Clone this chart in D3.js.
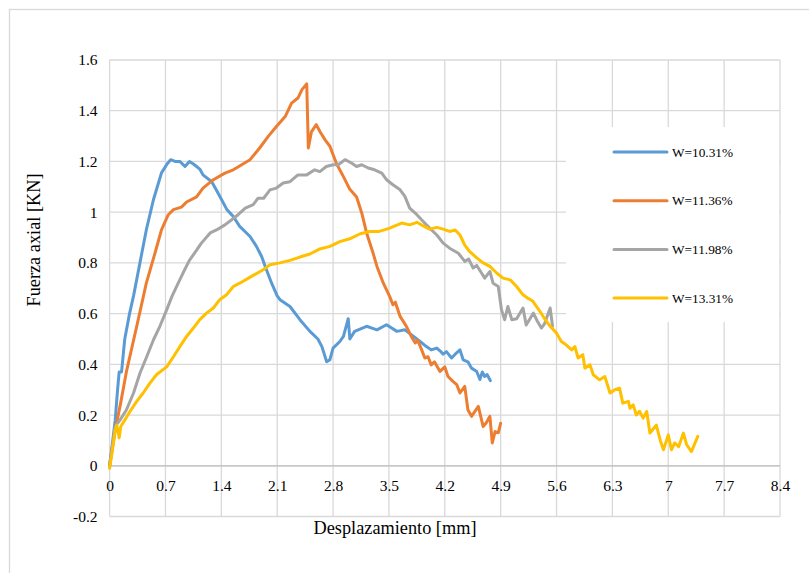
<!DOCTYPE html>
<html>
<head>
<meta charset="utf-8">
<script src="https://cdn.jsdelivr.net/npm/d3@7"></script>
<style>
  html, body { margin: 0; padding: 0; background: #fff; }
  svg { display: block; font-family: "Liberation Serif", "Times New Roman", serif; }
</style>
</head>
<body>
<svg id="chart" width="809" height="573"></svg>
<script>
// Displacement (mm) and axial force (kN) for each moisture content
const seriesNames = ["W=10.31%", "W=11.36%", "W=11.98%", "W=13.31%"];
const seriesColors = ["#5B9BD5", "#ED7D31", "#A5A5A5", "#FFC000"];

const xW1031 = [0, 0.04, 0.07, 0.10, 0.12, 0.15, 0.19, 0.25, 0.30, 0.38, 0.46, 0.55, 0.65, 0.72, 0.765, 0.82, 0.88, 0.945, 1.0, 1.05, 1.09, 1.13, 1.17, 1.28, 1.36, 1.47, 1.55, 1.63, 1.76, 1.84, 1.905, 1.95, 2.03, 2.10, 2.135, 2.26, 2.385, 2.51, 2.61, 2.66, 2.72, 2.76, 2.80, 2.885, 2.93, 2.99, 3.01, 3.07, 3.22, 3.35, 3.47, 3.60, 3.70, 3.78, 3.89, 3.97, 4.03, 4.10, 4.15, 4.18, 4.22, 4.285, 4.33, 4.39, 4.43, 4.49, 4.535, 4.60, 4.64, 4.67, 4.70, 4.73, 4.77];
const yW1031 = [0, 0.10, 0.18, 0.30, 0.37, 0.37, 0.50, 0.60, 0.67, 0.80, 0.93, 1.05, 1.155, 1.19, 1.207, 1.20, 1.20, 1.18, 1.20, 1.19, 1.18, 1.17, 1.147, 1.12, 1.075, 1.01, 0.983, 0.944, 0.904, 0.865, 0.825, 0.786, 0.72, 0.67, 0.655, 0.628, 0.576, 0.53, 0.50, 0.47, 0.41, 0.418, 0.464, 0.49, 0.51, 0.58, 0.50, 0.53, 0.55, 0.536, 0.556, 0.53, 0.536, 0.517, 0.49, 0.47, 0.457, 0.464, 0.45, 0.44, 0.45, 0.425, 0.44, 0.457, 0.418, 0.41, 0.385, 0.372, 0.34, 0.37, 0.352, 0.36, 0.336];

const xW1136 = [0, 0.07, 0.14, 0.21, 0.34, 0.46, 0.57, 0.65, 0.735, 0.80, 0.90, 0.965, 1.09, 1.17, 1.30, 1.445, 1.55, 1.655, 1.76, 1.88, 1.99, 2.09, 2.20, 2.28, 2.36, 2.41, 2.47, 2.49, 2.53, 2.59, 2.635, 2.70, 2.76, 2.845, 2.93, 3.01, 3.095, 3.16, 3.22, 3.30, 3.35, 3.43, 3.51, 3.55, 3.58, 3.64, 3.72, 3.78, 3.83, 3.86, 3.91, 3.95, 3.99, 4.03, 4.07, 4.14, 4.20, 4.24, 4.305, 4.35, 4.39, 4.45, 4.49, 4.535, 4.62, 4.68, 4.72, 4.765, 4.795, 4.83, 4.87, 4.90];
const yW1136 = [0, 0.14, 0.25, 0.37, 0.55, 0.72, 0.84, 0.93, 0.99, 1.01, 1.02, 1.04, 1.06, 1.095, 1.128, 1.154, 1.167, 1.187, 1.207, 1.253, 1.30, 1.338, 1.377, 1.43, 1.45, 1.483, 1.506, 1.253, 1.318, 1.345, 1.318, 1.285, 1.26, 1.19, 1.14, 1.09, 1.06, 0.996, 0.918, 0.84, 0.786, 0.72, 0.667, 0.635, 0.645, 0.589, 0.549, 0.51, 0.484, 0.495, 0.457, 0.425, 0.43, 0.398, 0.41, 0.372, 0.39, 0.352, 0.332, 0.32, 0.287, 0.313, 0.22, 0.195, 0.234, 0.155, 0.17, 0.195, 0.09, 0.135, 0.13, 0.168];

const xW1198 = [0, 0.07, 0.13, 0.21, 0.30, 0.38, 0.465, 0.55, 0.63, 0.715, 0.78, 0.84, 0.92, 1.0, 1.09, 1.15, 1.26, 1.34, 1.445, 1.53, 1.61, 1.70, 1.80, 1.86, 1.93, 2.01, 2.09, 2.175, 2.26, 2.36, 2.47, 2.57, 2.635, 2.715, 2.80, 2.865, 2.95, 3.03, 3.095, 3.16, 3.24, 3.32, 3.41, 3.47, 3.55, 3.64, 3.70, 3.76, 3.85, 3.93, 4.01, 4.10, 4.18, 4.26, 4.37, 4.45, 4.50, 4.555, 4.60, 4.66, 4.70, 4.765, 4.805, 4.87, 4.91, 4.95, 4.99, 5.04, 5.10, 5.18, 5.22, 5.31, 5.36, 5.41, 5.45, 5.52, 5.55];
const yW1198 = [0, 0.155, 0.18, 0.22, 0.287, 0.365, 0.43, 0.497, 0.55, 0.615, 0.667, 0.707, 0.76, 0.81, 0.85, 0.878, 0.918, 0.93, 0.95, 0.97, 0.99, 1.016, 1.03, 1.055, 1.055, 1.088, 1.095, 1.115, 1.12, 1.147, 1.147, 1.167, 1.16, 1.18, 1.187, 1.187, 1.207, 1.194, 1.18, 1.187, 1.174, 1.167, 1.154, 1.128, 1.108, 1.088, 1.062, 1.016, 0.99, 0.963, 0.937, 0.91, 0.878, 0.858, 0.838, 0.806, 0.815, 0.78, 0.79, 0.76, 0.74, 0.766, 0.72, 0.707, 0.615, 0.576, 0.628, 0.576, 0.58, 0.622, 0.555, 0.602, 0.57, 0.543, 0.56, 0.622, 0.55];

const xW1331 = [0, 0.03, 0.07, 0.09, 0.12, 0.14, 0.19, 0.255, 0.34, 0.42, 0.505, 0.59, 0.715, 0.80, 0.88, 0.965, 1.05, 1.13, 1.215, 1.30, 1.38, 1.465, 1.55, 1.63, 1.74, 1.925, 2.01, 2.135, 2.26, 2.385, 2.51, 2.635, 2.76, 2.885, 3.01, 3.14, 3.26, 3.38, 3.51, 3.66, 3.76, 3.85, 3.93, 4.01, 4.10, 4.18, 4.26, 4.33, 4.39, 4.45, 4.51, 4.60, 4.68, 4.765, 4.85, 4.93, 5.02, 5.10, 5.18, 5.245, 5.30, 5.35, 5.39, 5.45, 5.52, 5.60, 5.66, 5.72, 5.79, 5.83, 5.87, 5.93, 5.955, 6.02, 6.06, 6.14, 6.205, 6.27, 6.33, 6.39, 6.43, 6.50, 6.52, 6.56, 6.60, 6.64, 6.685, 6.73, 6.77, 6.85, 6.90, 6.94, 7.00, 7.04, 7.08, 7.13, 7.19, 7.23, 7.29, 7.37];
const yW1331 = [-0.01, 0.05, 0.14, 0.16, 0.11, 0.155, 0.18, 0.214, 0.254, 0.287, 0.326, 0.36, 0.39, 0.43, 0.47, 0.51, 0.543, 0.576, 0.602, 0.622, 0.655, 0.674, 0.707, 0.72, 0.74, 0.773, 0.793, 0.80, 0.81, 0.823, 0.835, 0.855, 0.865, 0.884, 0.895, 0.915, 0.924, 0.924, 0.937, 0.957, 0.95, 0.96, 0.946, 0.933, 0.94, 0.933, 0.924, 0.93, 0.91, 0.87, 0.845, 0.82, 0.80, 0.786, 0.76, 0.74, 0.733, 0.707, 0.674, 0.66, 0.65, 0.628, 0.61, 0.58, 0.55, 0.523, 0.49, 0.477, 0.457, 0.47, 0.425, 0.438, 0.385, 0.398, 0.359, 0.339, 0.352, 0.287, 0.30, 0.306, 0.247, 0.254, 0.227, 0.24, 0.20, 0.215, 0.188, 0.214, 0.129, 0.16, 0.10, 0.063, 0.122, 0.063, 0.09, 0.075, 0.129, 0.083, 0.056, 0.116];

const xTicks = [0, 0.7, 1.4, 2.1, 2.8, 3.5, 4.2, 4.9, 5.6, 6.3, 7, 7.7, 8.4];
const yTicks = [-0.2, 0, 0.2, 0.4, 0.6, 0.8, 1, 1.2, 1.4, 1.6];

const xSeries = [xW1031, xW1136, xW1198, xW1331];
const ySeries = [yW1031, yW1136, yW1198, yW1331];

const svg = d3.select("#chart");
const W = 809, H = 573;
const plot = { left: 109.6, right: 780, top: 60, bottom: 516.5 };
const serif = "'Liberation Serif', 'Times New Roman', serif";
const ink = "#000";

svg.append("rect").attr("width", W).attr("height", H).attr("fill", "#fff");
// chart area frame
svg.append("rect")
  .attr("x", 9.5).attr("y", 9.5).attr("width", W + 20).attr("height", H + 20)
  .attr("fill", "none").attr("stroke", "#d9d9d9").attr("stroke-width", 1.3);

const x = d3.scaleLinear().domain([0, 8.4]).range([plot.left, plot.right]);
const y = d3.scaleLinear().domain([-0.2, 1.6]).range([plot.bottom, plot.top]);

// gridlines
const grid = svg.append("g").attr("stroke", "#d9d9d9").attr("stroke-width", 1.3);
grid.selectAll("line.h").data(yTicks).join("line")
  .attr("x1", plot.left).attr("x2", plot.right)
  .attr("y1", d => y(d)).attr("y2", d => y(d));
grid.selectAll("line.v").data(xTicks).join("line")
  .attr("y1", plot.top).attr("y2", plot.bottom)
  .attr("x1", d => x(d)).attr("x2", d => x(d));

// zero axis line
svg.append("line")
  .attr("x1", plot.left).attr("x2", plot.right)
  .attr("y1", y(0)).attr("y2", y(0))
  .attr("stroke", "#bfbfbf").attr("stroke-width", 1.3);

// axes (labels only)
const fmt = d => String(d);
const xAxis = svg.append("g")
  .attr("transform", `translate(0,${y(0)})`)
  .call(d3.axisBottom(x).tickValues(xTicks).tickFormat(fmt).tickSize(0).tickPadding(14.5));
const yAxis = svg.append("g")
  .attr("transform", `translate(${plot.left},0)`)
  .call(d3.axisLeft(y).tickValues(yTicks).tickFormat(fmt).tickSize(0).tickPadding(12));
[xAxis, yAxis].forEach(g => {
  g.select(".domain").remove();
  g.attr("font-family", serif).attr("font-size", 15.5);
  g.selectAll("text").attr("fill", ink);
});

// series lines
const line = d3.line().x(d => x(d[0])).y(d => y(d[1])).curve(d3.curveLinear);
seriesNames.forEach((name, i) => {
  const pts = xSeries[i].map((v, k) => [v, ySeries[i][k]]);
  svg.append("path")
    .datum(pts)
    .attr("d", line)
    .attr("fill", "none")
    .attr("stroke", seriesColors[i])
    .attr("stroke-width", 3)
    .attr("stroke-linejoin", "round")
    .attr("stroke-linecap", "round");
});

// legend
const legend = svg.append("g").attr("font-family", serif);
legend.append("rect")
  .attr("x", 566).attr("y", 127).attr("width", 213).attr("height", 195)
  .attr("fill", "#fff");
seriesNames.forEach((name, i) => {
  const ly = 152 + i * 48.7;
  legend.append("line")
    .attr("x1", 614).attr("x2", 667).attr("y1", ly).attr("y2", ly)
    .attr("stroke", seriesColors[i]).attr("stroke-width", 3).attr("stroke-linecap", "round");
  legend.append("text")
    .attr("x", 672).attr("y", ly).attr("dy", "0.35em")
    .attr("font-size", 13.3).attr("fill", ink)
    .text(name);
});

// axis titles
svg.append("text")
  .attr("x", 395).attr("y", 528).attr("dy", "0.35em")
  .attr("font-family", serif)
  .attr("text-anchor", "middle").attr("font-size", 18.3).attr("fill", ink)
  .text("Desplazamiento [mm]");
svg.append("text")
  .attr("transform", "translate(34,240) rotate(-90)")
  .attr("dy", "0.35em")
  .attr("font-family", serif)
  .attr("text-anchor", "middle").attr("font-size", 18.3).attr("fill", ink)
  .text("Fuerza axial [KN]");
</script>
</body>
</html>
